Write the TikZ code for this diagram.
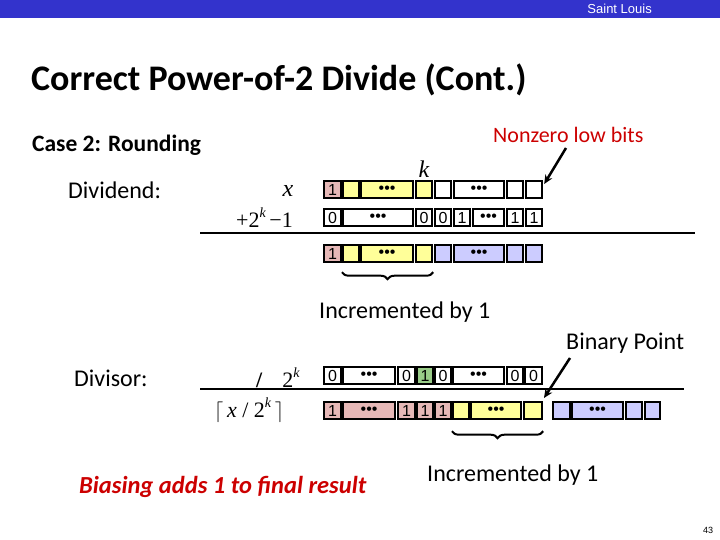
\documentclass[tikz,border=0pt]{standalone}
\usepackage{fontspec}
\setmainfont{Carlito}
\newfontfamily\arial{Liberation Sans}
\newfontfamily\tmsfont{Liberation Serif}
\usetikzlibrary{decorations.pathreplacing,arrows.meta}
\definecolor{hdr}{RGB}{51,51,204}
\definecolor{cpink}{RGB}{230,184,183}
\definecolor{cyel}{RGB}{255,255,153}
\definecolor{clav}{RGB}{204,204,255}
\definecolor{cgrn}{RGB}{153,204,136}
\definecolor{cred}{RGB}{204,0,0}
\newcommand{\bcell}[6]{\node[cell,fill=#5,minimum width={#3-#2},anchor=north west] (#1) at (#2,#4) {#6};}
\tikzset{cell/.style={draw=black,line width=2.2pt,inner sep=0pt,minimum height=17,font=\arial\fontsize{16}{16}\selectfont},
 lbl/.style={anchor=west,inner sep=0pt,font=\fontsize{24}{28}\selectfont},
 ser/.style={inner sep=0pt,font=\tmsfont\fontsize{22}{24}\selectfont},
 rule/.style={line width=2.2pt},
 pt/.style={line width=2.5pt,-{Stealth[length=9pt,width=8pt]}},
 br/.style={line width=2pt,decorate,decoration={brace,mirror,amplitude=7pt}}}
\newcommand{\dts}{\textbullet\textbullet\textbullet}
\begin{document}
\begin{tikzpicture}[x=1pt,y=-1pt]
\useasboundingbox (0,0) rectangle (720,540);
\fill[hdr] (0,0) rectangle (720,18);
\node[anchor=east,text=white,inner sep=0pt,font=\arial\fontsize{13}{14}\selectfont] (hd) at (652,9) {Saint Louis};
\node[lbl,font=\bfseries\fontsize{36}{40}\selectfont] (title) at (31,80) {Correct Power-of-2 Divide (Cont.)};
\node[lbl,font=\bfseries\fontsize{23.5}{28}\selectfont] (case) at (32,145) {Case 2: Rounding};
\node[lbl] (dvd) at (68,190) {Dividend:};
\node[lbl] (dvs) at (74,378) {Divisor:};
\node[ser,font=\tmsfont\itshape\fontsize{24}{24}\selectfont] (x) at (288,191) {x};
\node[ser,anchor=west] (p) at (236,218) {+2\raisebox{0.45em}{\fontsize{14}{14}\selectfont\itshape k}\,\textminus1};
\node[ser,font=\tmsfont\itshape\fontsize{24}{24}\selectfont] (k) at (424,169) {k};
\node[lbl,font=\fontsize{22}{26}\selectfont,text=cred] (nz) at (493,135) {Nonzero low bits};
% top rows
\bcell{a1}{323}{340}{180}{cpink}{1}
\bcell{a2}{342}{358}{180}{cyel}{}
\bcell{a3}{360}{412}{180}{cyel}{\dts}
\bcell{a4}{415}{431}{180}{cyel}{}
\bcell{a5}{434}{450}{180}{white}{}
\bcell{a6}{453}{503}{180}{white}{\dts}
\bcell{a7}{506}{522}{180}{white}{}
\bcell{a8}{525}{541}{180}{white}{}
\bcell{b1}{323}{340}{208}{white}{0}
\bcell{b3}{342}{412}{208}{white}{\dts}
\bcell{b4}{415}{431}{208}{white}{0}
\bcell{b5}{434}{450}{208}{white}{0}
\bcell{b55}{453}{469}{208}{white}{1}
\bcell{b6}{472}{503}{208}{white}{\dts}
\bcell{b7}{506}{522}{208}{white}{1}
\bcell{b8}{525}{541}{208}{white}{1}
\coordinate (l1a) at (200,233); \coordinate (l1b) at (695,233);
\draw[rule] (l1a) -- (l1b);
\bcell{c1}{323}{340}{244}{cpink}{1}
\bcell{c2}{342}{358}{244}{cyel}{}
\bcell{c3}{360}{412}{244}{cyel}{\dts}
\bcell{c4}{415}{431}{244}{cyel}{}
\bcell{c5}{434}{450}{244}{clav}{}
\bcell{c6}{453}{503}{244}{clav}{\dts}
\bcell{c7}{506}{522}{244}{clav}{}
\bcell{c8}{525}{541}{244}{clav}{}
\draw[br] ([yshift=-9pt]c2.south west) -- ([yshift=-9pt]c4.south east);
\node[lbl] (inc1) at (319,312) {Incremented by 1};
\coordinate (nzs) at (566,148);
\draw[pt] (nzs) -- ([xshift=1pt,yshift=-4pt]a8.north east);
% bottom
\node[lbl] (bp) at (566,343) {Binary Point};
\node[ser,anchor=west] (d2) at (256,378) {\textbf{/}\hspace{0.9em}2\raisebox{0.45em}{\fontsize{14}{14}\selectfont\itshape k}};
\node[ser,anchor=west] (q) at (214,410) {$\lceil$\,\textit{x} / 2\raisebox{0.45em}{\fontsize{14}{14}\selectfont\itshape k}\,$\rceil$};
\bcell{d1}{323}{340}{366}{white}{0}
\bcell{d3}{342}{394}{366}{white}{\dts}
\bcell{d4}{397}{414}{366}{white}{0}
\bcell{d5}{416}{432}{366}{cgrn}{1}
\bcell{d6}{434}{450}{366}{white}{0}
\bcell{d7}{452}{503}{366}{white}{\dts}
\bcell{d8}{506}{522}{366}{white}{0}
\bcell{d9}{524}{541}{366}{white}{0}
\coordinate (l2a) at (200,389); \coordinate (l2b) at (684,389);
\draw[rule] (l2a) -- (l2b);
\bcell{e1}{323}{340}{401}{cpink}{1}
\bcell{e3}{342}{394}{401}{cpink}{\dts}
\bcell{e4}{397}{414}{401}{cpink}{1}
\bcell{e5}{416}{432}{401}{cpink}{1}
\bcell{e6}{434}{450}{401}{cpink}{1}
\bcell{e7}{452}{468}{401}{cyel}{}
\bcell{e8}{470}{520}{401}{cyel}{\dts}
\bcell{e9}{523}{541}{401}{cyel}{}
\bcell{f1}{552}{569}{401}{clav}{}
\bcell{f2}{571}{622}{401}{clav}{\dts}
\bcell{f3}{625}{641}{401}{clav}{}
\bcell{f4}{644}{659}{401}{clav}{}
\coordinate (bps) at (570,358);
\draw[pt] (bps) -- (544,398);
\draw[br] ([yshift=-11pt]e7.south west) -- ([yshift=-11pt]e9.south east);
\node[lbl] (inc2) at (427,475) {Incremented by 1};
\node[lbl,font=\bfseries\itshape\fontsize{24.5}{28}\selectfont,text=cred] (bias) at (79,487) {Biasing adds 1 to final result};
\node[inner sep=0pt,font=\arial\fontsize{9}{10}\selectfont] (pg) at (708,530) {43};
\end{tikzpicture}
\end{document}
